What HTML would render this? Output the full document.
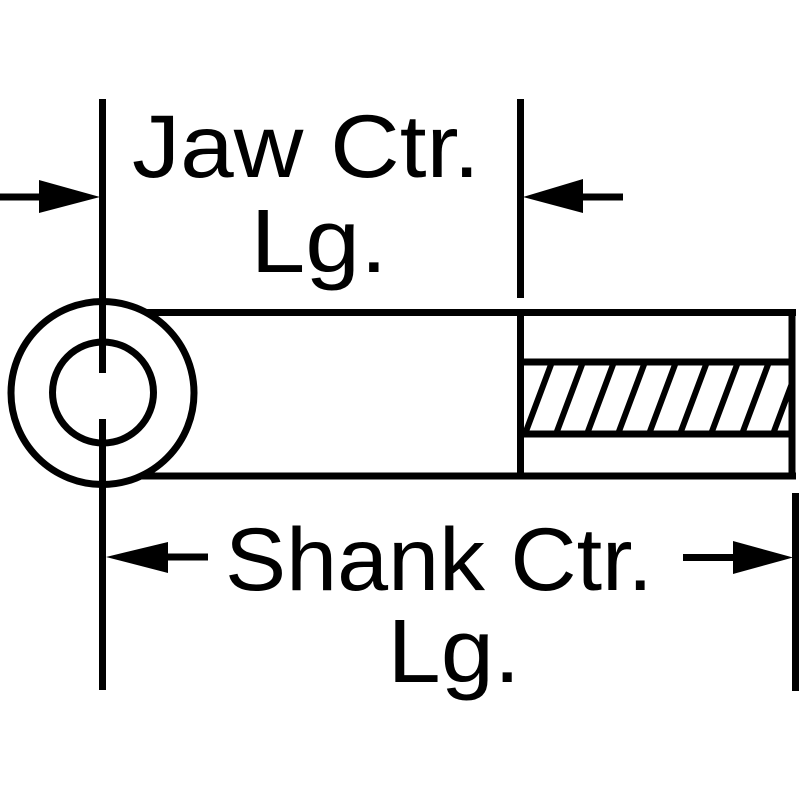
<!DOCTYPE html>
<html>
<head>
<meta charset="utf-8">
<style>
  html, body { margin: 0; padding: 0; background: #fff; }
  svg { display: block; }
  text { font-family: "Liberation Sans", Arial, sans-serif; fill: #000; }
</style>
</head>
<body>
<svg width="800" height="800" viewBox="0 0 800 800" xmlns="http://www.w3.org/2000/svg">
  <rect x="0" y="0" width="800" height="800" fill="#fff"/>

  <g stroke="#000" stroke-width="7" fill="none">
    <!-- centerline -->
    <line x1="102.5" y1="99" x2="102.5" y2="373"/>
    <line x1="102.5" y1="419" x2="102.5" y2="690"/>
    <!-- circles -->
    <circle cx="102.5" cy="393" r="91.5"/>
    <circle cx="103" cy="392.5" r="50.5"/>
    <!-- body rect -->
    <line x1="146" y1="312.5" x2="796" y2="312.5"/>
    <line x1="142" y1="476" x2="796" y2="476"/>
    <line x1="792" y1="309" x2="792" y2="479.5"/>
    <line x1="520.5" y1="312.5" x2="520.5" y2="476"/>
    <!-- thread band -->
    <line x1="520" y1="362" x2="792" y2="362"/>
    <line x1="520" y1="434" x2="792" y2="434"/>
    <!-- top right extension line -->
    <line x1="520.5" y1="99" x2="520.5" y2="298"/>
    <!-- bottom right extension line -->
    <line x1="795.5" y1="493" x2="795.5" y2="691"/>
    <!-- arrow shafts -->
    <line x1="0" y1="197" x2="45" y2="197"/>
    <line x1="578" y1="197" x2="623" y2="197"/>
    <line x1="162" y1="557" x2="208" y2="557"/>
    <line x1="683" y1="557.5" x2="738" y2="557.5"/>
  </g>

  <!-- hatching -->
  <defs>
    <clipPath id="band">
      <rect x="523" y="365" width="266" height="66"/>
    </clipPath>
  </defs>
  <g stroke="#000" stroke-width="6" clip-path="url(#band)">
    <line x1="525" y1="434" x2="552" y2="362"/>
    <line x1="556" y1="434" x2="583" y2="362"/>
    <line x1="587" y1="434" x2="614" y2="362"/>
    <line x1="618" y1="434" x2="645" y2="362"/>
    <line x1="649" y1="434" x2="676" y2="362"/>
    <line x1="680" y1="434" x2="707" y2="362"/>
    <line x1="711" y1="434" x2="738" y2="362"/>
    <line x1="742" y1="434" x2="769" y2="362"/>
    <line x1="773" y1="434" x2="800" y2="362"/>
  </g>

  <!-- arrowheads -->
  <g fill="#000">
    <polygon points="39,180 100,197 39,213"/>
    <polygon points="523,197 583,179 583,213"/>
    <polygon points="106,557 168,542 168,573"/>
    <polygon points="733,541 793,557.5 733,574"/>
  </g>

  <!-- labels -->
  <text x="132" y="177" font-size="89" textLength="348" lengthAdjust="spacingAndGlyphs">Jaw Ctr.</text>
  <text x="250.5" y="272" font-size="90" textLength="137" lengthAdjust="spacingAndGlyphs">Lg.</text>
  <text x="225" y="590" font-size="89" textLength="428" lengthAdjust="spacingAndGlyphs">Shank Ctr.</text>
  <text x="387.5" y="682" font-size="90" textLength="133" lengthAdjust="spacingAndGlyphs">Lg.</text>
</svg>
</body>
</html>
